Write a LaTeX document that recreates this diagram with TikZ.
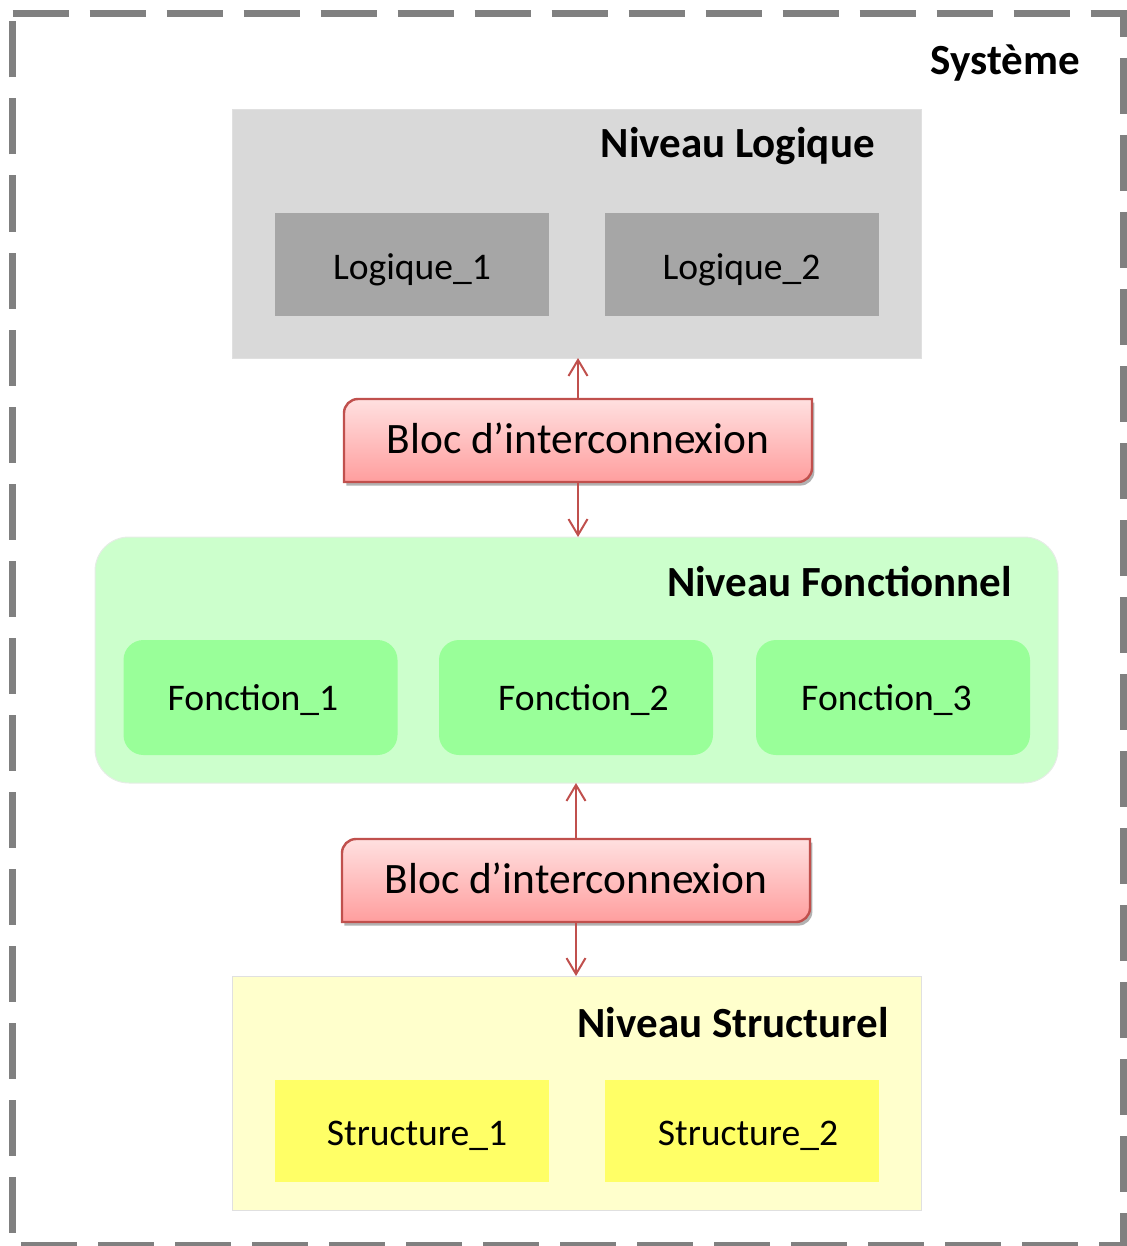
\documentclass[tikz,border=0pt]{standalone}
\usepackage{fontspec}
\setmainfont{Carlito}
\usetikzlibrary{arrows.meta,shadows}
\definecolor{frameGray}{HTML}{808080}
\definecolor{panelGray}{HTML}{D9D9D9}
\definecolor{boxGray}{HTML}{A6A6A6}
\definecolor{panelGreen}{HTML}{CCFFCC}
\definecolor{boxGreen}{HTML}{99FF99}
\definecolor{panelYellow}{HTML}{FFFFCC}
\definecolor{boxYellow}{HTML}{FFFF66}
\definecolor{linkRed}{HTML}{C0504D}
\definecolor{blocTop}{HTML}{FFE0E0}
\definecolor{blocBottom}{HTML}{FF9E9E}
\pgfdeclarelayer{bg}
\pgfsetlayers{bg,main}
\begin{document}
\begin{tikzpicture}[x=0.5pt,y=-0.5pt,
  panel/.style={inner sep=0pt, outer sep=0pt, draw=black!12, line width=0.5pt},
  subbox/.style={inner sep=0pt, outer sep=0pt, minimum width=137pt, minimum height=51.5pt,
    font=\fontsize{18.8}{22}\selectfont, text height=14.5pt, text depth=0pt},
  fnbox/.style={subbox, fill=boxGreen, rounded corners=10pt, minimum height=57.5pt, text height=12.5pt},
  % moves the label sideways inside its box (kern of 2s gives a shift of s)
  labelshift/.style={execute at begin node={\kern#1}},
  header/.style={anchor=base east, inner sep=0pt, font=\fontsize{21.5}{26}\selectfont\bfseries},
  bloc/.style={inner sep=0pt, outer sep=0pt, minimum width=234pt, minimum height=41.5pt,
    font=\fontsize{21.7}{26}\selectfont, text height=12.5pt, text depth=0pt},
  blocshape/.style={draw=linkRed, line width=1.2pt, top color=blocTop, bottom color=blocBottom,
    drop shadow={shadow xshift=1.2pt, shadow yshift=-1.8pt, opacity=0.3, fill=black}},
  link/.style={draw=linkRed, line width=1pt, -{Straight Barb[length=8pt,width=9.5pt]}}
]
\useasboundingbox (0,0) rectangle (1126,1246);

% dashed system frame
\draw[frameGray, line width=3.5pt, dash pattern=on 28pt off 10.5pt]
  (12.5,13.5) -- (1123,13.5) -- (1123,1245) -- (12.5,1245) -- cycle;
\node[header] (sys) at (1080,75) {Système};

% logical level
\node[panel, fill=panelGray, minimum width=344.5pt, minimum height=124pt] (logic) at (576.5,234) {};
\node[header] (logicT) at (875,158) {Niveau Logique};
\node[subbox, fill=boxGray] (l1) at (412,264.5) {Logique\_1};
\node[subbox, fill=boxGray] (l2) at (741.5,264.5) {Logique\_2};

% functional level
\node[panel, draw=green!30!black!10, fill=panelGreen, rounded corners=17pt,
  minimum width=481.5pt, minimum height=123pt] (func) at (576.5,660) {};
\node[header] (funcT) at (1012,596) {Niveau Fonctionnel};
\node[fnbox, labelshift=-7.5pt] (f1) at (260.5,697.5) {Fonction\_1};
\node[fnbox, labelshift=7.5pt] (f2) at (576,697.5) {Fonction\_2};
\node[fnbox, labelshift=-6.5pt] (f3) at (893,697.5) {Fonction\_3};

% structural level
\node[panel, fill=panelYellow, minimum width=344.5pt, minimum height=117pt] (struct) at (576.5,1093) {};
\node[header] (structT) at (889,1037) {Niveau Structurel};
\node[subbox, fill=boxYellow, minimum height=51pt, labelshift=5pt] (s1) at (412,1131) {Structure\_1};
\node[subbox, fill=boxYellow, minimum height=51pt, labelshift=6.5pt] (s2) at (741.5,1131) {Structure\_2};

% interconnection blocks
\node[bloc] (b1) at (578,440.5) {Bloc d’interconnexion};
\node[bloc] (b2) at (576,880.5) {Bloc d’interconnexion};
\begin{pgfonlayer}{bg}
  \foreach \b in {b1,b2}{
    \path[blocshape] (\b.west) [rounded corners=7pt] -- (\b.north west) [sharp corners] -- (\b.north east)
      -- (\b.east) [rounded corners=7pt] -- (\b.south east) [sharp corners] -- (\b.south west) -- cycle;
  }
\end{pgfonlayer}

% links
\draw[link] (b1.north) -- (b1.north |- logic.south);
\draw[link] (b1.south) -- (b1.south |- func.north);
\draw[link] (b2.north) -- (b2.north |- func.south);
\draw[link] (b2.south) -- (b2.south |- struct.north);
\end{tikzpicture}
\end{document}
